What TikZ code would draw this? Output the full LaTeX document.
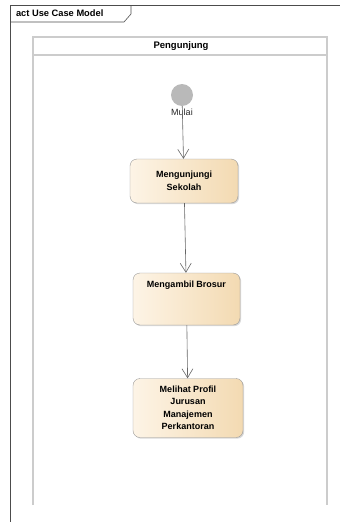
\documentclass[tikz,border=0pt]{standalone}
\usepackage{fontspec}
\setmainfont{Liberation Sans}
\usetikzlibrary{arrows.meta,shadows}

\definecolor{actlight}{HTML}{FDF4E6}
\definecolor{actdark}{HTML}{F3DAB2}

\tikzset{
  activity/.style={draw=gray!80, rounded corners=7pt, left color=actlight, right color=actdark,
    font=\bfseries\fontsize{9}{12.5}\selectfont, align=center, inner sep=3pt,
    drop shadow={shadow xshift=1.2pt, shadow yshift=-1.2pt, opacity=0.3}},
  flow/.style={draw=gray!80!black, line width=0.6pt, -{Straight Barb[length=9pt,width=11pt,line width=0.6pt]}},
  lane/.style={draw=gray!40, line width=1.6pt}
}

\begin{document}
\begin{tikzpicture}[x=1pt,y=-1pt]
    \useasboundingbox (0,0) rectangle (340,522);
    
    % frame
    \draw[gray!60!black, line width=0.6pt] (10,522) -- (10,5) -- (340,5);
    \draw[gray!60!black, line width=0.6pt] (10,22) -- (124,22) -- (131,14) -- (131,5);
    \node[font=\bfseries\fontsize{9.3}{11}\selectfont, anchor=west] (frametitle) at (12.5,13.5) {act Use Case Model};
    
    % swimlane
    \draw[lane] (33,505) -- (33,37) -- (327,37) -- (327,505)
    (33,55) -- (327,55);
    \node[font=\bfseries\fontsize{9.5}{11}\selectfont] (lanename) at (181,46) {Pengunjung};
    
    % start
    \node[circle, fill=gray!55, minimum size=22pt, inner sep=0pt] (init) at (182,95) {};
    \node[font=\fontsize{9}{10}\selectfont, text=gray!30!black] (initlabel) at (182,112) {Mulai};
    
    % activities
    \node[activity, minimum width=108pt, minimum height=44pt] (visit) at (184,181) {Mengunjungi\\Sekolah};
    \node[activity, minimum width=107pt, text height=11pt, text depth=35pt] (brochure) at (186.5,299) {Mengambil Brosur};
    \node[activity, minimum width=110pt, minimum height=59pt, inner sep=2pt] (profile) at (188,408) {Melihat Profil\\Jurusan\\Manajemen\\Perkantoran};
    
    \draw[flow] (init) -- (visit);
    \draw[flow] (visit) -- (brochure);
    \draw[flow] (brochure) -- (profile);
    
\end{tikzpicture}
\end{document}
